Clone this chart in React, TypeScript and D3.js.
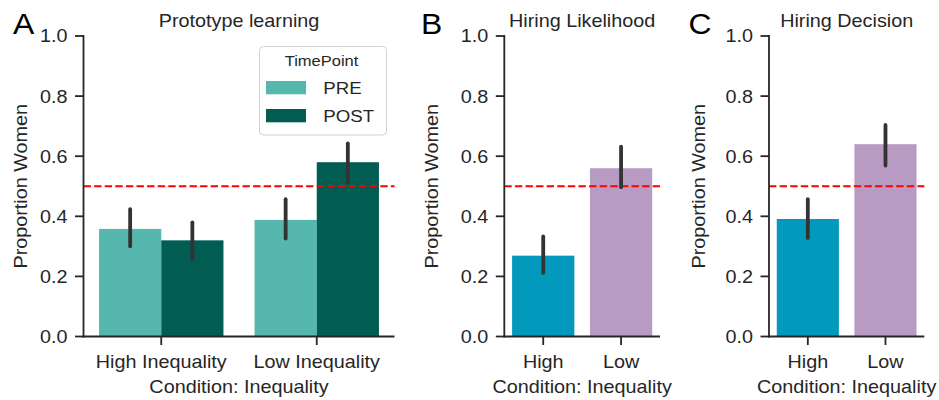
import React from "react";
import * as d3 from "d3";

// ---- data ----
const protoCategories = ["High Inequality", "Low Inequality"];
const timePoints = ["PRE", "POST"];
const protoPre = [0.358, 0.388];
const protoPreLo = [0.300, 0.326];
const protoPreHi = [0.424, 0.457];
const protoPost = [0.320, 0.580];
const protoPostLo = [0.258, 0.513];
const protoPostHi = [0.380, 0.643];

const hiringCategories = ["High", "Low"];
const likelihood = [0.269, 0.560];
const likelihoodLo = [0.212, 0.497];
const likelihoodHi = [0.333, 0.632];
const decision = [0.391, 0.640];
const decisionLo = [0.328, 0.569];
const decisionHi = [0.457, 0.704];

const yTicks = [0, 0.2, 0.4, 0.6, 0.8, 1.0];
const chanceLevel = 0.5;

// ---- styles ----
const FONT = "'Liberation Sans', Arial, Helvetica, sans-serif";
const SX = 1.1;
const FS = 18;
const AX = "#262626";
const ERR = "#333333";
const timeColors = ["#55b7ae", "#015c52"];
const condColors = ["#0399bd", "#b89bc2"];

const Y0 = 336.5;
const Y1 = 36;
const y = d3.scaleLinear().domain([0, 1]).range([Y0, Y1]);

function T({ x, y: yy, size, anchor = "start", rotate = 0, fill = AX, children }: any) {
  return (
    <text
      transform={`translate(${x},${yy}) rotate(${rotate}) scale(${SX},1)`}
      fontSize={size}
      fontFamily={FONT}
      textAnchor={anchor}
      fill={fill}
    >
      {children}
    </text>
  );
}

function Panel({ x0, x1, letter, letterX, title, ylabelX, categories, groups }: any) {
  const x = d3.scaleLinear().domain([-0.5, categories.length - 0.5]).range([x0, x1]);
  const step = x(1) - x(0);
  const groupW = step * 0.8;
  const nG = groups.length;
  const bw = groupW / nG;
  const cx = (x0 + x1) / 2;
  return (
    <g>
      {groups.map((g: any, gi: number) =>
        g.values.map((v: number, ci: number) => {
          const left = x(ci) - groupW / 2 + gi * bw;
          const c = g.colors ? g.colors[ci] : g.color;
          return (
            <rect key={`b${gi}-${ci}`} x={left} y={y(v)} width={bw} height={y(0) - y(v)} fill={c} />
          );
        })
      )}
      <line
        x1={x0}
        x2={x1}
        y1={y(chanceLevel)}
        y2={y(chanceLevel)}
        stroke="#ff0000"
        strokeWidth={2}
        strokeDasharray="7.4,3.2"
      />
      {groups.map((g: any, gi: number) =>
        g.values.map((v: number, ci: number) => {
          const mid = x(ci) - groupW / 2 + gi * bw + bw / 2;
          return (
            <line
              key={`e${gi}-${ci}`}
              x1={mid}
              x2={mid}
              y1={y(g.lo[ci])}
              y2={y(g.hi[ci])}
              stroke={ERR}
              strokeWidth={3.8}
              strokeLinecap="round"
            />
          );
        })
      )}
      <line x1={x0} x2={x0} y1={Y1 - 0.9} y2={Y0 + 0.9} stroke={AX} strokeWidth={1.8} />
      <line x1={x0 - 0.9} x2={x1} y1={Y0} y2={Y0} stroke={AX} strokeWidth={1.8} />
      {yTicks.map((t) => (
        <g key={`yt${t}`}>
          <line x1={x0 - 8.5} x2={x0} y1={y(t)} y2={y(t)} stroke={AX} strokeWidth={1.8} />
          <T x={x0 - 16} y={y(t) + 6.4} size={FS} anchor="end">
            {d3.format(".1f")(t)}
          </T>
        </g>
      ))}
      {categories.map((c: string, i: number) => (
        <g key={`xt${i}`}>
          <line x1={x(i)} x2={x(i)} y1={Y0} y2={Y0 + 8.5} stroke={AX} strokeWidth={1.8} />
          <T x={x(i)} y={367.5} size={FS} anchor="middle">
            {c}
          </T>
        </g>
      ))}
      <T x={cx} y={392.5} size={FS} anchor="middle">
        Condition: Inequality
      </T>
      <T x={ylabelX} y={(Y0 + Y1) / 2} size={FS} anchor="middle" rotate={-90}>
        Proportion Women
      </T>
      <T x={cx} y={26.5} size={FS} anchor="middle">
        {title}
      </T>
      <T x={letterX} y={34} size={29} fill="#000">
        {letter}
      </T>
    </g>
  );
}

export default function App() {
  return (
    <svg
      width={939}
      height={400}
      style={{ position: "absolute", left: 0, top: 0, background: "#fff" }}
    >
      <rect width={939} height={400} fill="#fff" />
      <Panel
        x0={83.5}
        x1={394.5}
        letter="A"
        letterX={13}
        title="Prototype learning"
        ylabelX={27}
        categories={protoCategories}
        groups={[
          { values: protoPre, lo: protoPreLo, hi: protoPreHi, color: timeColors[0] },
          { values: protoPost, lo: protoPostLo, hi: protoPostHi, color: timeColors[1] },
        ]}
      />
      <Panel
        x0={504.3}
        x1={660}
        letter="B"
        letterX={421}
        title="Hiring Likelihood"
        ylabelX={437.5}
        categories={hiringCategories}
        groups={[{ values: likelihood, lo: likelihoodLo, hi: likelihoodHi, colors: condColors }]}
      />
      <Panel
        x0={769}
        x1={924.3}
        letter="C"
        letterX={688.5}
        title="Hiring Decision"
        ylabelX={704.5}
        categories={hiringCategories}
        groups={[{ values: decision, lo: decisionLo, hi: decisionHi, colors: condColors }]}
      />
      <g>
        <rect
          x={259.5}
          y={46.5}
          width={127}
          height={88.5}
          rx={4}
          fill="#fff"
          fillOpacity={0.8}
          stroke="#d0d0d0"
          strokeWidth={1}
        />
        <T x={321.5} y={66} size={15} anchor="middle">
          TimePoint
        </T>
        {timePoints.map((tp, i) => (
          <g key={tp}>
            <rect x={266} y={81 + i * 28} width={40} height={13.3} fill={timeColors[i]} />
            <T x={323.3} y={93.8 + i * 28.3} size={17} anchor="start">
              {tp}
            </T>
          </g>
        ))}
      </g>
    </svg>
  );
}
